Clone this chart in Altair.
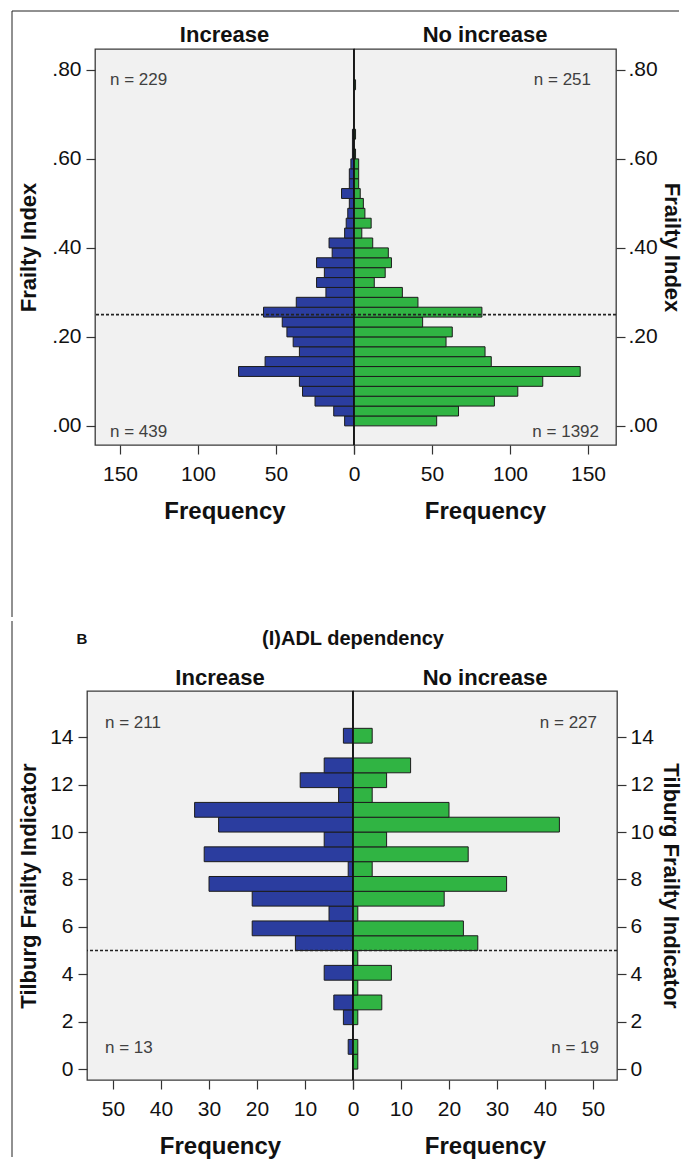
import altair as alt
import pandas as pd

FONT = "Liberation Sans"

# ---------------- Panel A: Frailty Index (bins of 1/45) ----------------
fi_increase = [6, 13, 25, 33, 35, 74, 57, 35, 39, 43, 46, 58, 37, 18, 24, 19, 24, 14,
               16, 6, 5, 4, 3, 8, 3, 3, 2, 1, 1, 1, 0, 0, 0, 0, 0]
fi_no_increase = [53, 67, 90, 105, 121, 145, 88, 84, 59, 63, 44, 82, 41, 31, 13, 20, 24,
                  22, 12, 5, 11, 7, 6, 4, 3, 3, 3, 1, 0, 1, 0, 0, 0, 0, 1]
fi_bin_width = 1 / 45
fi_ticks = [0, 0.2, 0.4, 0.6, 0.8]
fi_cut = 0.25
freq_ticks_a = [0, 50, 100, 150]
notes_a = {"inc_top": "n = 229", "inc_bot": "n = 439",
           "no_top": "n = 251", "no_bot": "n = 1392"}

# ---------------- Panel B: Tilburg Frailty Indicator (bins of 0.625) ----------------
tfi_increase = [0, 1, 0, 2, 4, 0, 6, 0, 12, 21, 5, 21, 30, 1, 31, 6, 28, 33, 3, 11, 6, 0, 2]
tfi_no_increase = [1, 1, 0, 1, 6, 1, 8, 1, 26, 23, 1, 19, 32, 4, 24, 7, 43, 20, 4, 7, 12, 0, 4]
tfi_bin_width = 0.625
tfi_ticks = [0, 2, 4, 6, 8, 10, 12, 14]
tfi_cut = 5
freq_ticks_b = [0, 10, 20, 30, 40, 50]
notes_b = {"inc_top": "n = 211", "inc_bot": "n = 13",
           "no_top": "n = 227", "no_bot": "n = 19"}

BLUE = "#2b3d9f"
GREEN = "#30b443"
BAR_STROKE = "#1c1c1c"
TXT = "#111111"
BORDER = "#222222"


def bins(counts, width):
    rows = []
    for k, c in enumerate(counts):
        if c > 0:
            rows.append({"lo": k * width, "hi": (k + 1) * width, "count": c})
    return pd.DataFrame(rows)


def one():
    return pd.DataFrame({"a": [0]})


def text(t, x, y, align, size, bold=False, color="#404040"):
    return alt.Chart(pd.DataFrame({"t": [t]})).mark_text(
        font=FONT, fontSize=size, fontWeight="bold" if bold else "normal",
        color=color, align=align, baseline="middle"
    ).encode(text="t:N", x=alt.value(x), y=alt.value(y))


def vline(x, y, y2):
    return alt.Chart(one()).mark_rule(color=BORDER, strokeWidth=1).encode(
        x=alt.value(x), y=alt.value(y), y2=alt.value(y2))


def hline(y, x, x2):
    return alt.Chart(one()).mark_rule(color=BORDER, strokeWidth=1).encode(
        y=alt.value(y), x=alt.value(x), x2=alt.value(x2))


def spacer(width, height):
    return alt.Chart(one()).mark_text(text="").encode(
        x=alt.value(0), y=alt.value(0)
    ).properties(width=width, height=height,
                 view=alt.ViewBackground(fill="transparent", stroke="transparent"))


def half(df, color, side, xmax, width, height, ydom, yticks, ylabel_expr, ytitle,
         xticks, cut, annotations, ytitle_pad, ylabel_pad):
    left = side == "left"
    if left:
        xaxis = alt.Axis(values=xticks, title="Frequency", labelFlush=False)
    else:
        xaxis = alt.Axis(values=xticks, title="Frequency", labelFlush=False,
                         labelExpr="datum.value == 0 ? '' : datum.label")
    yargs = dict(orient=side, values=yticks, title=ytitle, titlePadding=ytitle_pad,
                 labelPadding=ylabel_pad)
    if ylabel_expr:
        yargs["labelExpr"] = ylabel_expr
    bars = alt.Chart(df).mark_bar(color=color, stroke=BAR_STROKE, strokeWidth=1).encode(
        x=alt.X("count:Q", scale=alt.Scale(domain=[0, xmax], reverse=left, nice=False),
                axis=xaxis),
        x2=alt.datum(0),
        y=alt.Y("lo:Q", scale=alt.Scale(domain=ydom, nice=False, zero=False),
                axis=alt.Axis(**yargs)),
        y2="hi:Q",
    )
    cutline = alt.Chart(pd.DataFrame({"c": [cut]})).mark_rule(
        color="#222222", strokeDash=[3, 2], strokeWidth=1.6
    ).encode(y=alt.datum(cut))
    center = alt.Chart(pd.DataFrame({"c": [0]})).mark_rule(
        color="#111111", strokeWidth=1.6
    ).encode(x=alt.datum(0))
    return alt.layer(bars, cutline, center, *annotations).properties(width=width, height=height)


fi_expr = "substring(format(datum.value, '.2f'), 1)"

# Panel A (view top-left at 93,47)
A_W_L, A_W_R, A_H = 259, 262, 396
a_left = half(bins(fi_increase, fi_bin_width), BLUE, "left", A_W_L / 1.56, A_W_L, A_H,
              [-0.043, 0.847], fi_ticks, fi_expr, "Frailty Index", freq_ticks_a, fi_cut,
              [text(notes_a["inc_top"], 15, 31, "left", 17),
               text(notes_a["inc_bot"], 15, 383, "left", 17),
               text("Increase", A_W_L / 2, -14, "center", 22, True, TXT),
               vline(-83, -38, 568),
               hline(-38, -83, 584)],
              ytitle_pad=11, ylabel_pad=5)
a_right = half(bins(fi_no_increase, fi_bin_width), GREEN, "right", A_W_R / 1.56, A_W_R, A_H,
               [-0.043, 0.847], fi_ticks, fi_expr, "Frailty Index", freq_ticks_a, fi_cut,
               [text(notes_a["no_top"], 237, 31, "right", 17),
                text(notes_a["no_bot"], 245, 383, "right", 17),
                text("No increase", A_W_R / 2, -14, "center", 22, True, TXT)],
               ytitle_pad=2, ylabel_pad=3)
panel_a = alt.hconcat(spacer(9, A_H), a_left, a_right, spacing=0, bounds="flush")

# Panel B (view top-left at 85,685)
B_W_L, B_W_R, B_H = 266, 264, 389
b_left = half(bins(tfi_increase, tfi_bin_width), BLUE, "left", B_W_L / 4.8, B_W_L, B_H,
              [-0.46, 15.95], tfi_ticks, None, "Tilburg Frailty Indicator", freq_ticks_b, tfi_cut,
              [text(notes_b["inc_top"], 18, 32, "left", 17),
               text(notes_b["inc_bot"], 18, 357, "left", 17),
               text("Increase", B_W_L / 2, -13, "center", 22, True, TXT),
               text("B", -5, -52, "center", 15, True, TXT),
               text("(I)ADL dependency", B_W_L, -52, "center", 20, True, TXT),
               vline(-75, -70, 466)],
              ytitle_pad=9, ylabel_pad=5)
b_right = half(bins(tfi_no_increase, tfi_bin_width), GREEN, "right", B_W_R / 4.8, B_W_R, B_H,
               [-0.46, 15.95], tfi_ticks, None, "Tilburg Frailty Indicator", freq_ticks_b, tfi_cut,
               [text(notes_b["no_top"], 244, 32, "right", 17),
                text(notes_b["no_bot"], 246, 357, "right", 17),
                text("No increase", B_W_R / 2, -13, "center", 22, True, TXT)],
               ytitle_pad=5, ylabel_pad=4)
panel_b = alt.hconcat(spacer(1, B_H), b_left, b_right, spacing=0, bounds="flush")

chart = alt.vconcat(panel_a, panel_b, spacing=0).properties(
    padding={"left": 2, "top": 1, "right": 0, "bottom": 0},
    background="white",
).configure_view(
    fill="#f1f1f1", stroke="#3a3a3a", strokeWidth=1.3
).configure_axis(
    domain=False, grid=False, tickColor="#333333", tickSize=9, tickWidth=1.2,
    labelFont=FONT, labelFontSize=21, labelColor=TXT,
    titleFont=FONT, titleFontSize=22, titleFontWeight="bold", titleColor=TXT,
).configure_axisX(
    labelPadding=9, titlePadding=15, titleFontSize=24
)

chart.save("out.html", embed_options={"renderer": "svg", "actions": False})
